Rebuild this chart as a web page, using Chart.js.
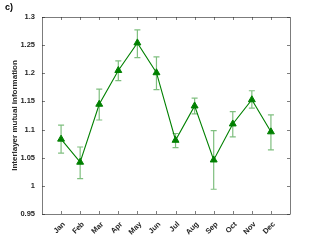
<!DOCTYPE html>
<html><head><meta charset="utf-8">
<script src="https://cdn.jsdelivr.net/npm/chart.js@4"></script>
<style>html,body{margin:0;padding:0;background:#fff}#w{width:321px;height:241px;position:relative}</style>
</head><body><div id="w"><canvas id="c" width="321" height="241"></canvas></div>
<script>
const months = ['Jan','Feb','Mar','Apr','May','Jun','Jul','Aug','Sep','Oct','Nov','Dec'];
const values = [1.083,1.042,1.145,1.205,1.254,1.201,1.081,1.142,1.046,1.110,1.153,1.096];
const errLow = [1.058,1.013,1.117,1.187,1.228,1.171,1.068,1.128,0.994,1.087,1.138,1.064];
const errHigh = [1.108,1.069,1.172,1.222,1.277,1.229,1.093,1.156,1.098,1.132,1.169,1.126];
const yTicks = [0.95,1,1.05,1.1,1.15,1.2,1.25,1.3];

const boxPlugin = {
  id:'box',
  afterDatasetsDraw(chart){
    const {ctx, chartArea:a, scales:{x,y}} = chart;
    ctx.save();
    ctx.strokeStyle='rgba(0,128,0,0.5)';
    ctx.lineWidth=1.2;
    values.forEach((v,i)=>{
      const px = x.getPixelForValue(i+1);
      const t = y.getPixelForValue(errHigh[i]);
      const b = y.getPixelForValue(errLow[i]);
      ctx.beginPath();
      ctx.moveTo(px,t);ctx.lineTo(px,b);
      ctx.moveTo(px-3,t);ctx.lineTo(px+3,t);
      ctx.moveTo(px-3,b);ctx.lineTo(px+3,b);
      ctx.stroke();
    });
    ctx.restore();
  },
  beforeDatasetsDraw(chart){
    const {ctx, chartArea:a, scales:{x,y}} = chart;
    ctx.save();
    ctx.strokeStyle='#262626';
    ctx.lineWidth=0.6;
    ctx.strokeRect(a.left+0.5,a.top+0.5,a.right-a.left,a.bottom-a.top);
    ctx.beginPath();
    for(let i=1;i<=12;i++){
      const px=Math.round(x.getPixelForValue(i))+0.5;
      ctx.moveTo(px,a.bottom);ctx.lineTo(px,a.bottom-3);
      ctx.moveTo(px,a.top);ctx.lineTo(px,a.top+3);
    }
    yTicks.forEach(v=>{
      const py=Math.round(y.getPixelForValue(v))+0.5;
      ctx.moveTo(a.left,py);ctx.lineTo(a.left+3,py);
      ctx.moveTo(a.right,py);ctx.lineTo(a.right-3,py);
    });
    ctx.stroke();
    ctx.fillStyle='#000';
    ctx.font='bold 9px "Liberation Sans", Arial, sans-serif';
    ctx.textBaseline='top';
    ctx.fillText('c)',5,3);
    ctx.restore();
  }
};

const tickFont = {family:'"Liberation Sans", Arial, sans-serif',size:7.5,weight:'bold'};

new Chart(document.getElementById('c'),{
  type:'line',
  data:{datasets:[{
    data: values.map((v,i)=>({x:i+1,y:v})),
    borderColor:'#008000',
    backgroundColor:'#008000',
    borderWidth:1.1,
    pointStyle:'triangle',
    pointRadius:4,
    pointBorderWidth:1,
    tension:0
  }]},
  options:{
    responsive:false,
    animation:false,
    devicePixelRatio:1,
    layout:{padding:{left:8,right:31,top:17,bottom:0}},
    plugins:{legend:{display:false},tooltip:{enabled:false}},
    scales:{
      x:{
        type:'linear',min:0,max:13,
        grid:{display:false,drawTicks:false},
        border:{display:false},
        afterBuildTicks(s){s.ticks=months.map((m,i)=>({value:i+1}));},
        afterFit(s){s.height=27;},
        ticks:{
          autoSkip:false,maxRotation:45,minRotation:45,padding:6,labelOffset:3,
          color:'#262626',font:tickFont,
          callback:(v)=>months[v-1]
        }
      },
      y:{
        min:0.95,max:1.3,
        grid:{display:false,drawTicks:false},
        border:{display:false},
        afterBuildTicks(s){s.ticks=yTicks.map(v=>({value:v}));},
        afterFit(s){s.width=34;},
        title:{display:true,text:'Interlayer mutual information',color:'#262626',
          font:{family:'"Liberation Sans", Arial, sans-serif',size:8,weight:'bold'},padding:{top:2,bottom:0}},
        ticks:{
          padding:7,color:'#262626',font:tickFont,
          callback:(v)=>String(Math.round(v*100)/100)
        }
      }
    }
  },
  plugins:[boxPlugin]
});
</script></body></html>
